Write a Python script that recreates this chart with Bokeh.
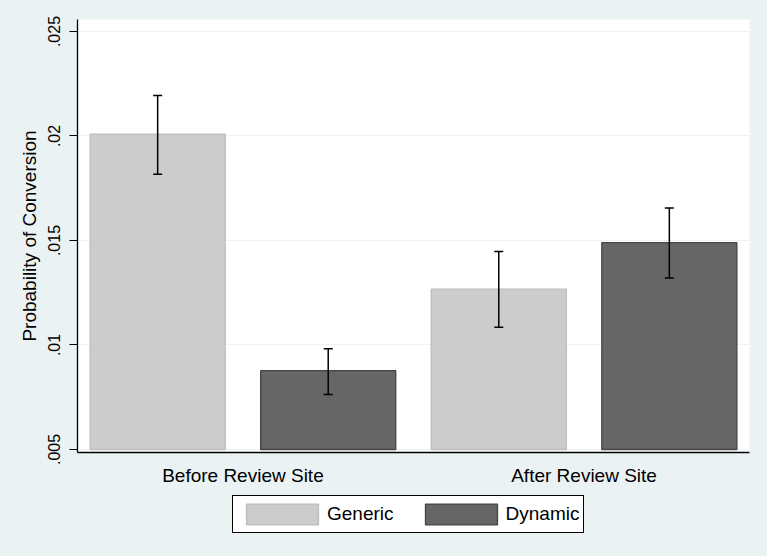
from bokeh.plotting import figure
from bokeh.layouts import column
from bokeh.models import FixedTicker, Legend, LegendItem, ColumnDataSource, FactorRange, Range1d
from bokeh.transform import dodge
from bokeh.embed import file_html
from bokeh.resources import INLINE

# ---- data ----
periods = ["Before Review Site", "After Review Site"]
series_names = ["Generic", "Dynamic"]
generic_mean = [0.02009, 0.01267]
generic_lower = [0.01817, 0.01085]
generic_upper = [0.02194, 0.01447]
dynamic_mean = [0.00877, 0.0149]
dynamic_lower = [0.00763, 0.0132]
dynamic_upper = [0.00982, 0.01656]
bar_base = 0.005
y_ticks = [0.005, 0.01, 0.015, 0.02, 0.025]
y_tick_labels = [".005", ".01", ".015", ".02", ".025"]
y_title = "Probability of Conversion"

# ---- style ----
BG = "#eaf2f3"
FONT = "Liberation Sans"
fill_colors = ["#cccccc", "#666666"]
line_colors = ["#bdbdbd", "#454545"]
offsets = [-0.25, 0.25]
BAR_W = 0.396

p = figure(
    x_range=FactorRange(factors=periods, range_padding=-0.015),
    y_range=(0.004856, 0.025574),
    frame_width=672, frame_height=433,
    output_backend="svg", toolbar_location=None,
    min_border_left=77, min_border_right=18, min_border_top=19, min_border_bottom=35,
)
p.border_fill_color = BG
p.background_fill_color = "white"
p.outline_line_color = None

series = [
    (generic_mean, generic_lower, generic_upper),
    (dynamic_mean, dynamic_lower, dynamic_upper),
]
sources = []
for i, (mean, lo, hi) in enumerate(series):
    src = ColumnDataSource(dict(period=periods, top=mean, lower=lo, upper=hi))
    sources.append(src)
    xs = dodge("period", offsets[i], range=p.x_range)
    p.vbar(x=xs, top="top", bottom=bar_base, width=BAR_W, source=src,
           fill_color=fill_colors[i], line_color=line_colors[i], line_width=1.3)
    p.segment(x0=xs, y0="lower", x1=xs, y1="upper", source=src,
              line_color="black", line_width=1.5)
    p.scatter(x=xs, y="lower", source=src, marker="dash", size=9,
              line_color="black", line_width=1.5)
    p.scatter(x=xs, y="upper", source=src, marker="dash", size=9,
              line_color="black", line_width=1.5)

# ---- axes ----
p.xgrid.grid_line_color = None
p.ygrid.grid_line_color = BG
p.ygrid.grid_line_width = 1
p.ygrid.ticker = FixedTicker(ticks=y_ticks)

p.yaxis.ticker = FixedTicker(ticks=y_ticks)
p.yaxis.major_label_overrides = {t: l for t, l in zip(y_ticks, y_tick_labels)}
p.yaxis.major_label_orientation = "vertical"
p.yaxis.major_label_text_font = FONT
p.yaxis.major_label_text_font_size = "16px"
p.yaxis.major_label_text_color = "black"
p.yaxis.major_label_standoff = 9
p.yaxis.major_tick_out = 8
p.yaxis.major_tick_in = 0
p.yaxis.minor_tick_line_color = None
p.yaxis.major_tick_line_color = "black"
p.yaxis.axis_line_color = "black"
p.yaxis.axis_line_width = 1.3
p.yaxis.axis_label = y_title
p.yaxis.axis_label_text_font = FONT
p.yaxis.axis_label_text_font_size = "19px"
p.yaxis.axis_label_text_font_style = "normal"
p.yaxis.axis_label_text_color = "black"
p.yaxis.axis_label_standoff = 6

p.xaxis.major_tick_line_color = None
p.xaxis.minor_tick_line_color = None
p.xaxis.major_tick_out = 0
p.xaxis.major_label_text_font = FONT
p.xaxis.major_label_text_font_size = "19px"
p.xaxis.major_label_text_color = "black"
p.xaxis.major_label_standoff = 12
p.xaxis.axis_line_color = "black"
p.xaxis.axis_line_width = 1.3

# ---- legend strip (separate small figure below the chart) ----
# Its key glyphs reuse the same data, but fall outside this strip's y range,
# so only the legend itself is visible.
lg = figure(
    width=767, height=69,
    x_range=FactorRange(factors=periods), y_range=Range1d(1, 2),
    output_backend="svg", toolbar_location=None,
    x_axis_location=None, y_axis_location=None,
    min_border_left=0, min_border_right=0, min_border_top=0, min_border_bottom=0,
)
lg.grid.grid_line_color = None
lg.outline_line_color = None
lg.background_fill_color = BG
lg.border_fill_color = BG
key_renderers = []
for i in range(len(series_names)):
    key_renderers.append(
        lg.vbar(x=dodge("period", offsets[i], range=lg.x_range), top="top",
                bottom=bar_base, width=BAR_W, source=sources[i],
                fill_color=fill_colors[i], line_color=line_colors[i], line_width=1.3)
    )

legend = Legend(
    items=[LegendItem(label=n, renderers=[r]) for n, r in zip(series_names, key_renderers)],
    orientation="horizontal", location=(155, 24),
    glyph_width=90, glyph_height=26, label_height=28,
    label_standoff=0, spacing=22, padding=4, margin=0,
    label_text_font=FONT, label_text_font_size="19px", label_text_color="black",
    border_line_color="black", border_line_width=1.5, border_line_alpha=1,
    background_fill_color="white", background_fill_alpha=1,
)
lg.add_layout(legend)

layout = column(p, lg, spacing=0)

html = file_html(layout, INLINE)
html = html.replace("<body>", '<body style="background-color:%s">' % BG)
open("out.html", "w").write(html)
